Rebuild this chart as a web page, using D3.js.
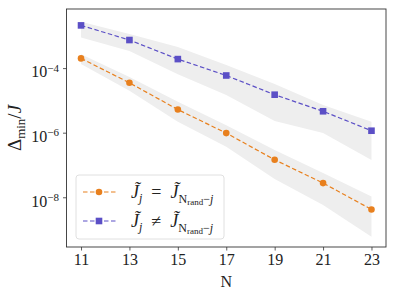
<!DOCTYPE html>
<html>
<head>
<meta charset="utf-8">
<script src="https://cdn.jsdelivr.net/npm/d3@7"></script>
<style>
  body { margin: 0; background: #fff; }
  text { font-family: 'Liberation Serif', 'DejaVu Serif', serif; fill: #222; }
</style>
</head>
<body>
<div id="chart"></div>
<script>
// system sizes
const sizes = [11, 13, 15, 17, 19, 21, 23];

// symmetric couplings
const symMean  = [2.0e-4, 3.5e-5, 5.2e-6, 9.7e-7, 1.45e-7, 2.75e-8, 4.2e-9];
const symUpper = [2.7e-4, 5.3e-5, 9.1e-6, 1.7e-6, 2.9e-7, 5.6e-8, 1.05e-8];
const symLower = [1.33e-4, 1.98e-5, 2.2e-6, 3.7e-7, 3.7e-8, 5.8e-9, 6e-10];

// non-symmetric couplings
const asymMean  = [2.1e-3, 7.4e-4, 1.9e-4, 5.9e-5, 1.5e-5, 4.6e-6, 1.15e-6];
const asymUpper = [2.7e-3, 1.13e-3, 4.5e-4, 1.24e-4, 3.2e-5, 7.2e-6, 2.2e-6];
const asymLower = [8.9e-4, 3.4e-4, 6.5e-5, 1.46e-5, 2.3e-6, 9.8e-7, 1.42e-7];

const xTicks = [11, 13, 15, 17, 19, 21, 23];
const yTicks = [1e-4, 1e-6, 1e-8];

const orange = '#e8801e';
const blue = '#5b4fc6';

const W = 396, H = 297;
const margin = { top: 9, right: 10, bottom: 50, left: 66.5 };
const width = W - margin.left - margin.right;
const height = H - margin.top - margin.bottom;

const svg = d3.select('#chart')
  .append('svg')
  .attr('width', W)
  .attr('height', H);

const g = svg.append('g')
  .attr('transform', `translate(${margin.left}, ${margin.top})`);

const x = d3.scaleLinear()
  .domain([10.4, 23.6])
  .range([0, width]);

const y = d3.scaleLog()
  .domain([Math.pow(10, -9.54), Math.pow(10, -2.17)])
  .range([height, 0]);

function rows(mean, lo, hi) {
  return sizes.map((n, i) => ({ n: n, v: mean[i], lo: lo[i], hi: hi[i] }));
}
const series = [
  { key: 'sym', data: rows(symMean, symLower, symUpper), color: orange, marker: 'circle' },
  { key: 'asym', data: rows(asymMean, asymLower, asymUpper), color: blue, marker: 'square' }
];

//bands
const area = d3.area()
  .x(d => x(d.n))
  .y0(d => y(d.lo))
  .y1(d => y(d.hi));

series.forEach(s => {
  g.append('path')
    .datum(s.data)
    .attr('fill', '#eeeeee')
    .attr('d', area);
});

//lines and markers
const line = d3.line()
  .x(d => x(d.n))
  .y(d => y(d.v));

series.forEach(s => {
  g.append('path')
    .datum(s.data)
    .attr('fill', 'none')
    .attr('stroke', s.color)
    .attr('stroke-width', 1.2)
    .attr('stroke-dasharray', '4.5,2.5')
    .attr('d', line);

  if (s.marker === 'circle') {
    g.selectAll('.dot-' + s.key)
      .data(s.data)
      .join('circle')
      .attr('cx', d => x(d.n))
      .attr('cy', d => y(d.v))
      .attr('r', 3.3)
      .attr('fill', s.color);
  } else {
    g.selectAll('.sq-' + s.key)
      .data(s.data)
      .join('rect')
      .attr('x', d => x(d.n) - 3.3)
      .attr('y', d => y(d.v) - 3.3)
      .attr('width', 6.6)
      .attr('height', 6.6)
      .attr('fill', s.color);
  }
});

//x-axis
const xAxis = g.append('g')
  .attr('transform', `translate(0, ${height})`)
  .call(d3.axisBottom(x).tickValues(xTicks).tickSize(3.5).tickPadding(3).tickSizeOuter(0));
xAxis.select('.domain').remove();
xAxis.selectAll('.tick line').attr('stroke', '#333').attr('stroke-width', 0.8);
xAxis.selectAll('.tick text')
  .style('font-size', '16px')
  .style('font-family', "'Liberation Serif', serif")
  .attr('fill', '#222');

//y-axis
const yAxis = g.append('g')
  .call(d3.axisLeft(y).tickValues(yTicks).tickSize(3.5).tickPadding(4).tickFormat(() => ''));
yAxis.select('.domain').remove();
yAxis.selectAll('.tick line').attr('stroke', '#333').attr('stroke-width', 0.8);
yAxis.selectAll('.tick text').each(function (d) {
  const t = d3.select(this)
    .style('font-size', '16px')
    .attr('fill', '#222')
    .attr('dy', '0.55em');
  t.append('tspan').text('10');
  t.append('tspan')
    .attr('dy', '-0.5em')
    .style('font-size', '11px')
    .text('\u2212' + Math.round(-Math.log10(d)));
});

//frame
g.append('rect')
  .attr('width', width)
  .attr('height', height)
  .attr('fill', 'none')
  .attr('stroke', '#333')
  .attr('stroke-width', 0.9);

//axis labels
svg.append('text')
  .attr('x', margin.left + width / 2)
  .attr('y', 287)
  .attr('text-anchor', 'middle')
  .style('font-size', '16px')
  .text('N');

const yl = svg.append('text')
  .attr('transform', `translate(21, ${margin.top + height / 2}) rotate(-90)`)
  .attr('text-anchor', 'middle')
  .style('font-size', '19px');
yl.append('tspan').text('\u0394');
yl.append('tspan').attr('dy', 4).style('font-size', '13px').text('min');
yl.append('tspan').attr('dy', -4).text('/');
yl.append('tspan').style('font-style', 'italic').text('J');

//legend
const legend = svg.append('g').attr('transform', 'translate(76, 175)');
legend.append('rect')
  .attr('width', 148)
  .attr('height', 64)
  .attr('rx', 3)
  .attr('fill', 'rgba(255,255,255,0.8)')
  .attr('stroke', '#dcdcdc')
  .attr('stroke-width', 0.9);

const legendRows = [
  { s: series[0], rel: '=', y: 17 },
  { s: series[1], rel: '\u2260', y: 46 }
];
legendRows.forEach(r => {
  const row = legend.append('g').attr('transform', `translate(0, ${r.y})`);
  row.append('line')
    .attr('x1', 7).attr('x2', 40)
    .attr('stroke', r.s.color)
    .attr('stroke-width', 1.2)
    .attr('stroke-dasharray', '4.5,2.5');
  if (r.s.marker === 'circle') {
    row.append('circle').attr('cx', 23).attr('r', 3.3).attr('fill', r.s.color);
  } else {
    row.append('rect').attr('x', 19.7).attr('y', -3.3).attr('width', 6.6).attr('height', 6.6).attr('fill', r.s.color);
  }
  const t = row.append('text')
    .attr('x', 55)
    .attr('dy', '0.35em')
    .style('font-size', '18px');
  t.append('tspan').style('font-style', 'italic').text('J\u0303');
  t.append('tspan').attr('dy', 4).style('font-size', '12px').style('font-style', 'italic').text('j');
  t.append('tspan').attr('dy', -4).text('\u2002' + r.rel + '\u2002');
  t.append('tspan').style('font-style', 'italic').text('J\u0303');
  t.append('tspan').attr('dy', 5).style('font-size', '12px').text('N');
  t.append('tspan').attr('dy', 2).style('font-size', '9px').text('rand');
  t.append('tspan').attr('dy', -2).style('font-size', '12px').text('\u2212');
  t.append('tspan').style('font-size', '12px').style('font-style', 'italic').text('j');
});
</script>
</body>
</html>
